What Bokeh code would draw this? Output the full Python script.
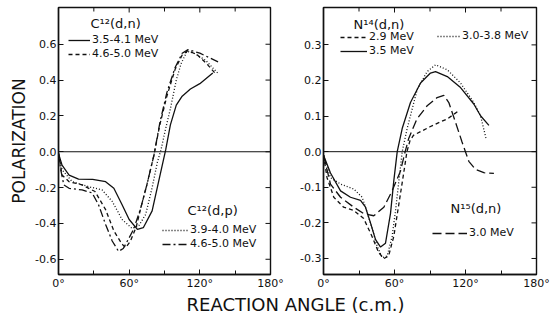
import math
from bokeh.plotting import figure
from bokeh.models import FixedTicker, Span, Legend, LegendItem, Label, PrintfTickFormatter
from bokeh.layouts import row, column
from bokeh.embed import file_html
from bokeh.resources import INLINE

FONT = "DejaVu Sans"
INK = "#111111"

# ---------------- data (angles in degrees c.m., polarization) ----------------
# Left panel: C12
c12dn_a_theta = [0, 3, 9, 17, 29, 40, 47, 54, 60, 67, 72, 79.5, 85, 91, 95, 100, 105, 112, 120, 131]
c12dn_a_pol = [-0.01, -0.075, -0.13, -0.153, -0.154, -0.167, -0.204, -0.296, -0.378, -0.433,
               -0.424, -0.33, -0.167, 0.01, 0.15, 0.26, 0.31, 0.35, 0.38, 0.44]

c12dn_b_theta = [0, 3, 9, 20, 31, 40, 47, 54, 57, 61, 66, 70, 75, 81, 86, 92, 99, 105, 110, 118, 126, 134]
c12dn_b_pol = [-0.01, -0.13, -0.167, -0.185, -0.222, -0.323, -0.442, -0.516, -0.535, -0.5, -0.42,
               -0.31, -0.185, -0.02, 0.15, 0.31, 0.46, 0.54, 0.565, 0.54, 0.49, 0.43]

c12dp_a_theta = [0, 3, 11.6, 25.7, 37, 45.6, 54, 62.5, 68, 74, 79.5, 84, 87, 91, 95, 100, 104, 109, 115, 125, 135]
c12dp_a_pol = [-0.01, -0.1, -0.167, -0.195, -0.213, -0.277, -0.378, -0.428, -0.415, -0.35, -0.2,
               -0.057, 0.01, 0.13, 0.24, 0.40, 0.49, 0.56, 0.55, 0.51, 0.44]

c12dp_b_theta = [0, 1.7, 4.5, 9, 20, 28.6, 34, 40, 45.6, 51, 55, 60, 64, 70, 75, 81, 86, 92, 99, 105, 110, 120, 136]
c12dp_b_pol = [-0.01, -0.094, -0.185, -0.204, -0.213, -0.23, -0.296, -0.406, -0.498, -0.556, -0.54,
               -0.48, -0.43, -0.31, -0.185, -0.02, 0.16, 0.33, 0.47, 0.55, 0.57, 0.55, 0.50]

# Right panel: N14 / N15
n14_29_theta = [0, 3, 8.7, 17, 25.6, 34, 41, 46.7, 51, 55, 59.4, 63.7, 68, 70.5, 73, 76, 83, 90, 97, 104.6, 114.4]
n14_29_pol = [-0.01, -0.073, -0.128, -0.156, -0.165, -0.188, -0.238, -0.284, -0.30, -0.293, -0.238,
              -0.147, -0.055, 0.0, 0.03, 0.046, 0.058, 0.07, 0.081, 0.092, 0.115]

n14_35_theta = [0, 5.9, 14.4, 22.8, 31.3, 35.5, 39.7, 44, 48.2, 52.4, 56.6, 59.4, 62.3, 66.5, 73.5,
                82, 90.4, 94.7, 104.6, 115.8, 127, 132.7, 139.8]
n14_35_pol = [-0.01, -0.06, -0.11, -0.128, -0.137, -0.156, -0.2, -0.247, -0.268, -0.257, -0.174,
              -0.082, 0.0, 0.065, 0.138, 0.193, 0.221, 0.225, 0.211, 0.18, 0.134, 0.101, 0.074]

n14_3038_theta = [0, 5.9, 14.4, 25.6, 32.7, 39.7, 45.4, 49.6, 53.8, 58, 60.9, 63.7, 66.5, 70.7, 79.2,
                  87.6, 94.7, 104.6, 115.8, 127, 132.7, 137.5]
n14_3038_pol = [-0.01, -0.073, -0.091, -0.105, -0.128, -0.2, -0.266, -0.298, -0.293, -0.238, -0.165,
                -0.082, 0.0, 0.065, 0.175, 0.225, 0.244, 0.23, 0.193, 0.138, 0.101, 0.035]

n15_30_theta = [0, 5.9, 14.4, 25.6, 34, 42.5, 51, 58, 65, 69, 72, 79, 87.6, 96, 101.7, 105.9, 111.5,
                117, 122.8, 128.5, 135.5, 144]
n15_30_pol = [-0.01, -0.091, -0.128, -0.156, -0.174, -0.18, -0.156, -0.11, -0.055, 0.0, 0.037, 0.092,
              0.129, 0.152, 0.158, 0.138, 0.083, 0.028, -0.027, -0.05, -0.059, -0.061]

x_range = (0, 180)
x_ticks = [0, 60, 120, 180]
x_minor = [30, 90, 150]
left_yrange = (-0.685, 0.805)
right_yrange = (-0.345, 0.405)
left_yticks = [-0.6, -0.4, -0.2, 0.0, 0.2, 0.4, 0.6]
right_yticks = [-0.3, -0.2, -0.1, 0.0, 0.1, 0.2, 0.3]

legend_left_top = ["3.5-4.1 MeV", "4.6-5.0 MeV"]
legend_left_bottom = ["3.9-4.0 MeV", "4.6-5.0 MeV"]
legend_right_top = ["2.9 MeV", "3.5 MeV"]
legend_right_top2 = ["3.0-3.8 MeV"]
legend_right_bottom = ["3.0 MeV"]
titles = ["C¹²(d,n)", "C¹²(d,p)", "N¹⁴(d,n)", "N¹⁵(d,n)"]
x_title = "REACTION ANGLE (c.m.)"
y_title = "POLARIZATION"

SOLID, SHORT, DOT, DASHDOT, LONG = "solid", "4 3", "1 2", "8 3 2 3", "9 4"
LW = 1.3


def make_panel(width, height, yr, yticks, bl, br, ylabel=None):
    p = figure(width=width, height=height, x_range=x_range, y_range=yr,
               toolbar_location=None, output_backend="svg",
               min_border_left=bl, min_border_right=br, min_border_top=7, min_border_bottom=15)
    p.grid.visible = False
    p.outline_line_color = INK
    p.outline_line_width = 1.4
    p.background_fill_color = "white"
    p.border_fill_color = "white"
    xa, ya = p.xaxis[0], p.yaxis[0]
    xa.ticker = FixedTicker(ticks=x_ticks, minor_ticks=x_minor)
    xa.formatter = PrintfTickFormatter(format="%d°")
    ya.ticker = FixedTicker(ticks=yticks)
    ya.formatter = PrintfTickFormatter(format="%.1f")
    for ax in (xa, ya):
        ax.major_tick_in = 5
        ax.major_tick_out = 0
        ax.minor_tick_in = 4
        ax.minor_tick_out = 0
        ax.axis_line_color = INK
        ax.axis_line_width = 1.4
        ax.major_tick_line_color = INK
        ax.minor_tick_line_color = INK
        ax.major_label_text_font = FONT
        ax.major_label_text_font_size = "11px"
        ax.major_label_text_color = INK
        ax.major_label_standoff = 2
    if ylabel:
        ya.axis_label = ylabel
        ya.axis_label_text_font = FONT
        ya.axis_label_text_font_size = "17px"
        ya.axis_label_text_font_style = "normal"
        ya.axis_label_text_color = INK
        ya.axis_label_standoff = 3
    # inward ticks on the top and right frame edges (half of each dash is clipped by the frame)
    p.scatter(x_ticks, [yr[1]] * len(x_ticks), marker="dash", angle=math.pi / 2,
              size=10, line_color=INK, line_width=1)
    p.scatter(x_minor, [yr[1]] * len(x_minor), marker="dash", angle=math.pi / 2,
              size=8, line_color=INK, line_width=1)
    p.scatter([x_range[1]] * len(yticks), yticks, marker="dash", angle=0,
              size=10, line_color=INK, line_width=1)
    p.add_layout(Span(location=0, dimension="width", line_color=INK, line_width=1))
    return p


def add_legend(p, items, loc, glyph_w):
    lg = Legend(items=items, location=loc, padding=0, margin=0, spacing=1,
                glyph_width=glyph_w, glyph_height=12, label_height=12, label_standoff=2,
                label_text_font=FONT, label_text_font_size="11px", label_text_color=INK,
                background_fill_alpha=0, border_line_alpha=0)
    p.add_layout(lg)


def add_title(p, text, x, y):
    p.add_layout(Label(x=x, y=y, x_units="screen", y_units="screen", text=text,
                       text_font=FONT, text_font_size="13px", text_color=INK,
                       text_baseline="middle", text_align="left"))


# ---------------- left panel ----------------
p1 = make_panel(290, 292, left_yrange, left_yticks, 58, 20, ylabel=y_title)
r1 = p1.line(c12dn_a_theta, c12dn_a_pol, line_color=INK, line_width=LW, line_dash=SOLID)
r2 = p1.line(c12dn_b_theta, c12dn_b_pol, line_color=INK, line_width=LW, line_dash=SHORT)
r3 = p1.line(c12dp_a_theta, c12dp_a_pol, line_color=INK, line_width=LW, line_dash=DOT)
r4 = p1.line(c12dp_b_theta, c12dp_b_pol, line_color=INK, line_width=LW, line_dash=DASHDOT)
add_legend(p1, [LegendItem(label=legend_left_top[0], renderers=[r1]),
                LegendItem(label=legend_left_top[1], renderers=[r2])], (10, 214), 22)
add_legend(p1, [LegendItem(label=legend_left_bottom[0], renderers=[r3]),
                LegendItem(label=legend_left_bottom[1], renderers=[r4])], (104, 24), 26)
add_title(p1, titles[0], 32, 251)
add_title(p1, titles[1], 129, 64)

# ---------------- right panel ----------------
p2 = make_panel(262, 292, right_yrange, right_yticks, 33, 16)
s1 = p2.line(n14_29_theta, n14_29_pol, line_color=INK, line_width=LW, line_dash=SHORT)
s2 = p2.line(n14_35_theta, n14_35_pol, line_color=INK, line_width=LW, line_dash=SOLID)
s3 = p2.line(n14_3038_theta, n14_3038_pol, line_color=INK, line_width=LW, line_dash=DOT)
s4 = p2.line(n15_30_theta, n15_30_pol, line_color=INK, line_width=LW, line_dash=LONG)
add_legend(p2, [LegendItem(label=legend_right_top[0], renderers=[s1]),
                LegendItem(label=legend_right_top[1], renderers=[s2])], (17, 217), 27)
add_legend(p2, [LegendItem(label=legend_right_top2[0], renderers=[s3])], (114, 232), 23)
add_legend(p2, [LegendItem(label=legend_right_bottom[0], renderers=[s4])], (109, 35), 35)
add_title(p2, titles[2], 30, 250)
add_title(p2, titles[3], 127, 66)

# ---------------- shared x-axis title ----------------
p3 = figure(width=552, height=28, x_range=(0, 1), y_range=(0, 1), toolbar_location=None,
            output_backend="svg", min_border=0)
p3.axis.visible = False
p3.grid.visible = False
p3.outline_line_color = None
p3.add_layout(Label(x=295, y=16, x_units="screen", y_units="screen",
                    text=x_title, text_font=FONT, text_font_size="18px",
                    text_color=INK, text_align="center", text_baseline="middle"))

layout = column(row(p1, p2), p3)
open("out.html", "w").write(file_html(layout, INLINE))
